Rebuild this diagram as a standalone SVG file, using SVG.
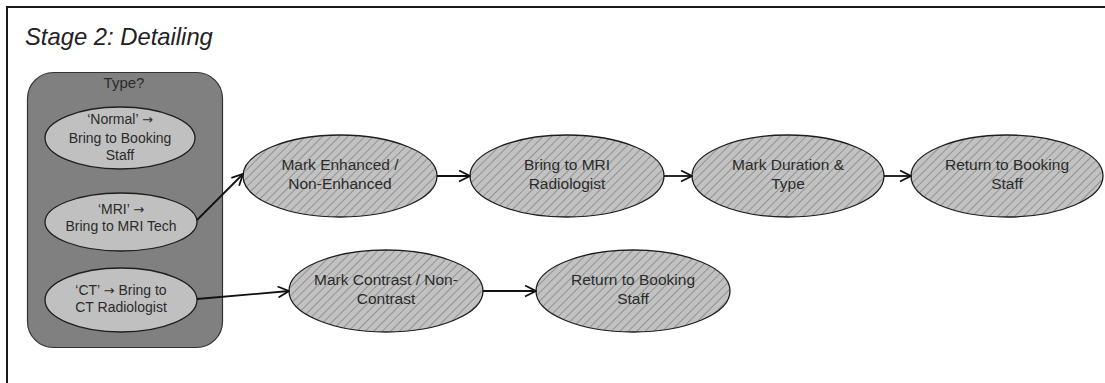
<svg xmlns="http://www.w3.org/2000/svg" width="1105" height="383" viewBox="0 0 1105 383">
  <style>
    .lbl { font-family: "Liberation Sans", Arial, sans-serif; fill: #2b2b2b; text-anchor: middle; }
    .small { font-size: 14px; }
    .big { font-size: 15.5px; }
    .arr { font-family: "DejaVu Sans", sans-serif; font-size: 13px; }
    .plain { fill: #c0c0c0; stroke: #1e1e1e; stroke-width: 1.3; }
    .hatched { fill: url(#hatch); stroke: #1e1e1e; stroke-width: 1.3; }
    .edge { fill: none; stroke: #111; stroke-width: 1.8; marker-end: url(#arrow); }
  </style>
  <defs>
    <!-- diagonal "/" hatching over light grey -->
    <pattern id="hatch" width="6" height="6" patternUnits="userSpaceOnUse" patternTransform="rotate(45)">
      <rect width="6" height="6" fill="#c2c2c2"/>
      <line x1="0" y1="0" x2="0" y2="6" stroke="#6a6a6a" stroke-width="1.1"/>
    </pattern>
    <!-- open V arrowhead -->
    <marker id="arrow" viewBox="0 0 13 13" refX="12" refY="6.5" markerWidth="13" markerHeight="13" markerUnits="userSpaceOnUse" orient="auto">
      <path d="M1,1 L12,6.5 L1,12" fill="none" stroke="#111" stroke-width="1.8"/>
    </marker>
  </defs>

  <!-- background and frame -->
  <rect width="1105" height="383" fill="#ffffff"/>
  <path d="M7,383 V7 H1105" fill="none" stroke="#1a1a1a" stroke-width="2"/>
  <text x="25" y="45" font-family="'Liberation Sans', Arial, sans-serif" font-size="23.8" font-style="italic" fill="#222">Stage 2: Detailing</text>

  <!-- decision group -->
  <g id="type-group">
    <rect x="27.5" y="72.5" width="195" height="275" rx="26" ry="26" fill="#808080" stroke="#333" stroke-width="1.2"/>
    <text class="lbl" x="124" y="88" font-size="15">Type?</text>
  </g>

  <g id="normal">
    <ellipse class="plain" cx="120" cy="138" rx="75" ry="31"/>
    <text class="lbl small" x="120" y="124">‘Normal’ <tspan class="arr">→</tspan></text>
    <text class="lbl small" x="120" y="143">Bring to Booking</text>
    <text class="lbl small" x="120" y="160">Staff</text>
  </g>

  <g id="mri">
    <ellipse class="plain" cx="121" cy="222" rx="76" ry="29"/>
    <text class="lbl small" x="121" y="214">‘MRI’ <tspan class="arr">→</tspan></text>
    <text class="lbl small" x="121" y="231">Bring to MRI Tech</text>
  </g>

  <g id="ct">
    <ellipse class="plain" cx="121" cy="300" rx="76" ry="32"/>
    <text class="lbl small" x="121" y="295">‘CT’ <tspan class="arr">→</tspan> Bring to</text>
    <text class="lbl small" x="121" y="312">CT Radiologist</text>
  </g>

  <!-- MRI path -->
  <g id="mark-enhanced">
    <ellipse class="hatched" cx="340" cy="176" rx="97" ry="41"/>
    <text class="lbl big" x="340" y="170">Mark Enhanced /</text>
    <text class="lbl big" x="340" y="189">Non-Enhanced</text>
  </g>

  <g id="mri-radiologist">
    <ellipse class="hatched" cx="567" cy="176" rx="97" ry="41"/>
    <text class="lbl big" x="567" y="170">Bring to MRI</text>
    <text class="lbl big" x="567" y="189">Radiologist</text>
  </g>

  <g id="mark-duration">
    <ellipse class="hatched" cx="788" cy="176" rx="96" ry="41"/>
    <text class="lbl big" x="788" y="170">Mark Duration &amp;</text>
    <text class="lbl big" x="788" y="189">Type</text>
  </g>

  <g id="mri-return">
    <ellipse class="hatched" cx="1007" cy="176" rx="96" ry="41"/>
    <text class="lbl big" x="1007" y="170">Return to Booking</text>
    <text class="lbl big" x="1007" y="189">Staff</text>
  </g>

  <!-- CT path -->
  <g id="mark-contrast">
    <ellipse class="hatched" cx="386" cy="291" rx="97" ry="41"/>
    <text class="lbl big" x="386" y="285">Mark Contrast / Non-</text>
    <text class="lbl big" x="386" y="304">Contrast</text>
  </g>

  <g id="ct-return">
    <ellipse class="hatched" cx="633" cy="291" rx="97" ry="41"/>
    <text class="lbl big" x="633" y="285">Return to Booking</text>
    <text class="lbl big" x="633" y="304">Staff</text>
  </g>

  <!-- connectors -->
  <g id="connectors">
    <path class="edge" d="M197,220 L243,174"/>
    <path class="edge" d="M437,176 L470,176"/>
    <path class="edge" d="M664,176 L692,176"/>
    <path class="edge" d="M884,176 L911,176"/>
    <path class="edge" d="M197,299 L289,291"/>
    <path class="edge" d="M483,291 L536,291"/>
  </g>
</svg>
